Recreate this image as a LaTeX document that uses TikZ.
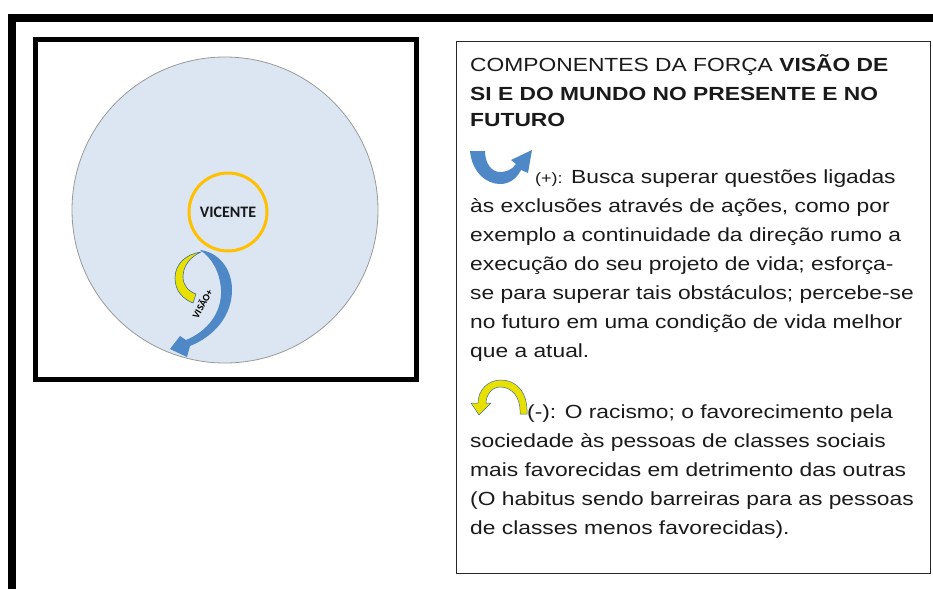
\documentclass[tikz,border=0pt]{standalone}
\usepackage{fontspec}
\setmainfont{Liberation Sans}
\newfontfamily\calib{Carlito}
\usetikzlibrary{arrows.meta}
\definecolor{bgblue}{HTML}{DCE6F2}
\definecolor{ringor}{HTML}{FFC000}
\definecolor{arrblue}{HTML}{4F88C6}
\definecolor{arryel}{HTML}{E8E000}
\definecolor{bodytxt}{HTML}{1A1A1A}
\newcommand{\wide}[1]{\scalebox{1.2}[1]{#1}}
\tikzset{
  bodyline/.style={anchor=base west, inner sep=0pt, font=\fontsize{19}{22}\selectfont, text=bodytxt},
}
\begin{document}
\begin{tikzpicture}[x=1pt,y=-1pt]
\useasboundingbox (0,0) rectangle (933,589);
% outer frame
\fill[black] (8,14) rectangle (933,22);
\fill[black] (8,14) rectangle (16,589);
% left box
\draw[line width=5pt] (35.5,39.5) rectangle (416.5,379.5);
% big circle
\node[circle, draw=gray!80, fill=bgblue, line width=0.8pt, minimum size=306pt, inner sep=0pt] (big) at (225,210) {};
\node[circle, draw=ringor, line width=3pt, minimum size=78pt, inner sep=0pt, font=\calib\bfseries\fontsize{16}{18}\selectfont, text=black!90] (vic) at (228,212) {VICENTE};
% yellow arrow
\fill[arryel, draw=arrblue!80!black, line width=0.6pt]
  (201,252) .. controls (186,254) and (175,264) .. (175,278)
  .. controls (175,291) and (183,299) .. (193,303)
  -- (196,294) .. controls (188,291) and (183,285) .. (183,277)
  .. controls (183,266) and (190,257) .. (201,252) -- cycle;
% blue arrow
\fill[arrblue]
  (200,250) .. controls (218,252) and (232,268) .. (232,290)
  .. controls (232,315) and (215,336) .. (190,346)
  -- (187,357) -- (170,349) -- (180,336) -- (186,340)
  .. controls (208,331) and (222,312) .. (221,290)
  .. controls (220,272) and (212,258) .. (200,250) -- cycle;
\node[rotate=60, font=\calib\bfseries\fontsize{10}{11}\selectfont, inner sep=0pt] (visao) at (202,304) {VISÃO+};
% right box
\draw[line width=0.8pt, draw=black!85] (456.5,41.5) rectangle (930.5,573.5);
\node[bodyline] (t1) at (470,71) {\wide{COMPONENTES DA FORÇA \textbf{VISÃO DE}}};
\node[bodyline] (t2) at (470,100) {\wide{\textbf{SI E DO MUNDO NO PRESENTE E NO}}};
\node[bodyline] (t3) at (470,126) {\wide{\textbf{FUTURO}}};
% blue icon
\fill[arrblue]
  (470,151) .. controls (472,172) and (486,184) .. (500,184)
  .. controls (510,184) and (517,178) .. (521,170)
  -- (528,173) -- (532,150) -- (511,160) -- (516,164)
  .. controls (512,170) and (506,172) .. (500,172)
  .. controls (492,172) and (485,164) .. (485,151) -- cycle;
\node[bodyline, font=\fontsize{15}{18}\selectfont] (p0) at (535,183) {\wide{(+):}};
\node[bodyline] (p1) at (571,183) {\wide{Busca superar questões ligadas}};
\node[bodyline] (p2) at (470,212) {\wide{às exclusões através de ações, como por}};
\node[bodyline] (p3) at (470,241) {\wide{exemplo a continuidade da direção rumo a}};
\node[bodyline] (p4) at (470,270) {\wide{execução do seu projeto de vida; esforça-}};
\node[bodyline] (p5) at (470,299) {\wide{se para superar tais obstáculos; percebe-se}};
\node[bodyline] (p6) at (470,328) {\wide{no futuro em uma condição de vida melhor}};
\node[bodyline] (p7) at (470,357) {\wide{que a atual.}};
% yellow icon
\fill[arryel, draw=arrblue!80!black, line width=0.5pt]
  (520,414) .. controls (521,396) and (511,387) .. (500,387)
  .. controls (492,387) and (486,395) .. (486,403)
  -- (491,403) -- (479,415) -- (471,403) -- (478,403)
  .. controls (478,390) and (488,380) .. (501,380)
  .. controls (516,380) and (528,392) .. (527,414) -- cycle;
\node[bodyline] (m1) at (527,418) {\wide{(-): O racismo; o favorecimento pela}};
\node[bodyline] (m2) at (470,447) {\wide{sociedade às pessoas de classes sociais}};
\node[bodyline] (m3) at (470,476) {\wide{mais favorecidas em detrimento das outras}};
\node[bodyline] (m4) at (470,505) {\wide{(O habitus sendo barreiras para as pessoas}};
\node[bodyline] (m5) at (470,534) {\wide{de classes menos favorecidas).}};
\end{tikzpicture}
\end{document}
